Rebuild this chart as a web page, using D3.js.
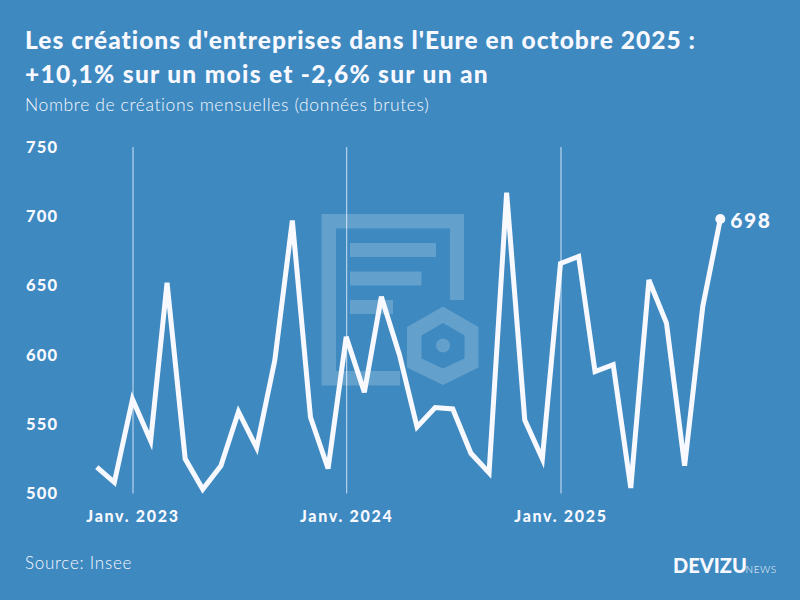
<!DOCTYPE html>
<html><head><meta charset="utf-8">
<script src="https://cdn.jsdelivr.net/npm/d3@7/dist/d3.min.js"></script>
<style>html,body{margin:0;padding:0;background:#3d89c0}svg{display:block;font-family:Lato,sans-serif}</style>
</head><body><svg id="c" width="800" height="600"></svg>
<script>
const startMonth = "2022-11-01";
const values = [519,508,568,538,652,525,503,520,559,533,596,697,555,518,613,573,642,600,548,562,561,529,515,717,553,525,666,671,588,593,504,654,623,520,635,698];
const yTicks = [500,550,600,650,700,750];
const xTicks = ["2023-01-01","2024-01-01","2025-01-01"];
const xTickLabels = ["Janv. 2023","Janv. 2024","Janv. 2025"];
const titleLines = ["Les créations d'entreprises dans l'Eure en octobre 2025 :","+10,1% sur un mois et -2,6% sur un an"];
const subtitle = "Nombre de créations mensuelles (données brutes)";
const source = "Source: Insee";

const parse = d3.utcParse("%Y-%m-%d");
const dates = values.map((_, i) => d3.utcMonth.offset(parse(startMonth), i));
const ink = "#f8f8ff";
const svg = d3.select("#c");
svg.append("rect").attr("width",800).attr("height",600).attr("fill","#3d89c0");

// watermark
const wm = svg.append("g").attr("fill","#fff").attr("fill-opacity",0.2);
wm.append("path").attr("fill-rule","evenodd").attr("d","M321.5,214 H464 V300 H450 V228.5 H336 V371 H400 V385.5 H321.5 Z");
wm.append("rect").attr("x",350).attr("y",243).attr("width",86).attr("height",14);
wm.append("rect").attr("x",350).attr("y",271.5).attr("width",71.5).attr("height",14);
wm.append("rect").attr("x",350).attr("y",300).attr("width",43).attr("height",14);
wm.append("path").attr("fill-rule","evenodd").attr("d","M443,306.5 L478.5,327 V367.5 L443,385 L407,367.5 V327 Z M443,323 L421.5,335.5 V358.5 L443,368.5 L464.5,358.5 V335.5 Z");
wm.append("circle").attr("cx",443).attr("cy",345.5).attr("r",7);

const x = d3.scaleUtc().domain([parse("2023-01-01"),parse("2025-01-01")]).range([132.5,560.5]);
const y = d3.scaleLinear().domain([500,750]).range([493.5,147]);

const gx = svg.append("g").attr("transform","translate(0,493.5)")
  .call(d3.axisBottom(x).tickValues(xTicks.map(parse)).tickSize(-346.5).tickPadding(17)
    .tickFormat((d,i)=>xTickLabels[i]));
gx.select(".domain").remove();
gx.selectAll("line").attr("stroke",ink).attr("stroke-width",1).attr("stroke-opacity",0.8);
gx.selectAll("text").attr("fill",ink).attr("font-family","Lato").attr("font-size",16).attr("font-weight",900).attr("letter-spacing",1.7);

const gy = svg.append("g").attr("transform","translate(58.5,0)")
  .call(d3.axisLeft(y).tickValues(yTicks).tickSize(0).tickPadding(0));
gy.select(".domain").remove();
gy.selectAll("text").attr("fill",ink).attr("font-family","Lato").attr("font-size",16.5).attr("font-weight",900).attr("letter-spacing",1.3).attr("dy","0.32em");

const line = d3.line().x((d,i)=>x(dates[i])).y(d=>y(d));
svg.append("path").datum(values).attr("d",line).attr("fill","none").attr("stroke",ink).attr("stroke-width",5);

const lastI = values.length-1;
svg.append("circle").attr("cx",x(dates[lastI])).attr("cy",y(values[lastI])).attr("r",5).attr("fill",ink);
svg.append("text").attr("x",x(dates[lastI])+10).attr("y",y(values[lastI])+8.5)
  .attr("fill",ink).attr("font-size",21).attr("font-weight",900).attr("letter-spacing",1.5).text(values[lastI]);

svg.selectAll("text.title").data(titleLines).join("text").attr("class","title")
  .attr("x",25).attr("y",(d,i)=>49+i*34.3).attr("fill",ink).attr("font-size",24.5).attr("font-weight",900)
  .attr("letter-spacing",(d,i)=>i?1.29:1.02).text(d=>d);
svg.append("text").attr("x",25).attr("y",111).attr("fill",ink).attr("font-size",17.5).attr("font-weight",300).attr("letter-spacing",0.61).text(subtitle);
svg.append("text").attr("x",25).attr("y",569).attr("fill",ink).attr("font-size",17).attr("font-weight",300).attr("letter-spacing",0.75).text(source);
svg.append("text").attr("x",673).attr("y",573).attr("fill",ink).attr("font-size",20).attr("font-weight",900).text("DEVIZU");
svg.append("text").attr("x",745.5).attr("y",573).attr("fill",ink).attr("font-size",10).attr("font-weight",300).attr("letter-spacing",0.6).text("NEWS");
</script></body></html>
